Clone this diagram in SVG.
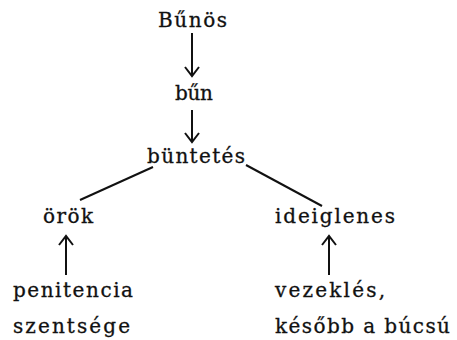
<svg xmlns="http://www.w3.org/2000/svg" width="457" height="340" viewBox="0 0 457 340">
<defs>
<marker id="ah" viewBox="-10 -8 12 16" markerWidth="12" markerHeight="16" refX="0" refY="0" orient="auto-start-reverse" markerUnits="userSpaceOnUse">
<path d="M-9,-7 L0,0 L-9,7" fill="none" stroke="#111" stroke-width="2" stroke-linejoin="miter"/>
</marker>
<style>
text{font-family:"DejaVu Serif","Liberation Serif",serif;font-size:20px;fill:#111;stroke:#111;stroke-width:0.3;}
.c{stroke:#111;fill:none;stroke-width:2;}
</style>
</defs>
<rect width="457" height="340" fill="#fff"/>
<g id="n-bunos"><text x="158" y="27" textLength="69" lengthAdjust="spacing">Bűnös</text></g>
<g id="n-bun"><text x="175" y="100" textLength="38" lengthAdjust="spacing">bűn</text></g>
<g id="n-buntetes"><text x="147" y="163" textLength="98" lengthAdjust="spacing">büntetés</text></g>
<g id="n-orok"><text x="43" y="223" textLength="50" lengthAdjust="spacing">örök</text></g>
<g id="n-ideiglenes"><text x="275" y="223" textLength="120" lengthAdjust="spacing">ideiglenes</text></g>
<g id="n-penitencia">
<text x="13" y="297" textLength="120" lengthAdjust="spacing">penitencia</text>
<text x="13" y="333" textLength="117" lengthAdjust="spacing">szentsége</text>
</g>
<g id="n-vezekles">
<text x="275" y="297" textLength="110" lengthAdjust="spacing">vezeklés,</text>
<text x="275" y="333" textLength="175" lengthAdjust="spacing">később a búcsú</text>
</g>
<g id="connectors">
<line class="c" x1="192" y1="33" x2="192" y2="76" marker-end="url(#ah)"/>
<line class="c" x1="192" y1="110" x2="192" y2="142" marker-end="url(#ah)"/>
<line class="c" x1="153" y1="167" x2="80" y2="200"/>
<line class="c" x1="246" y1="165" x2="322" y2="206" stroke-width="1.3"/>
<line class="c" x1="66" y1="275" x2="66" y2="236" marker-end="url(#ah)"/>
<line class="c" x1="329" y1="275" x2="329" y2="236" marker-end="url(#ah)"/>
</g>
</svg>
